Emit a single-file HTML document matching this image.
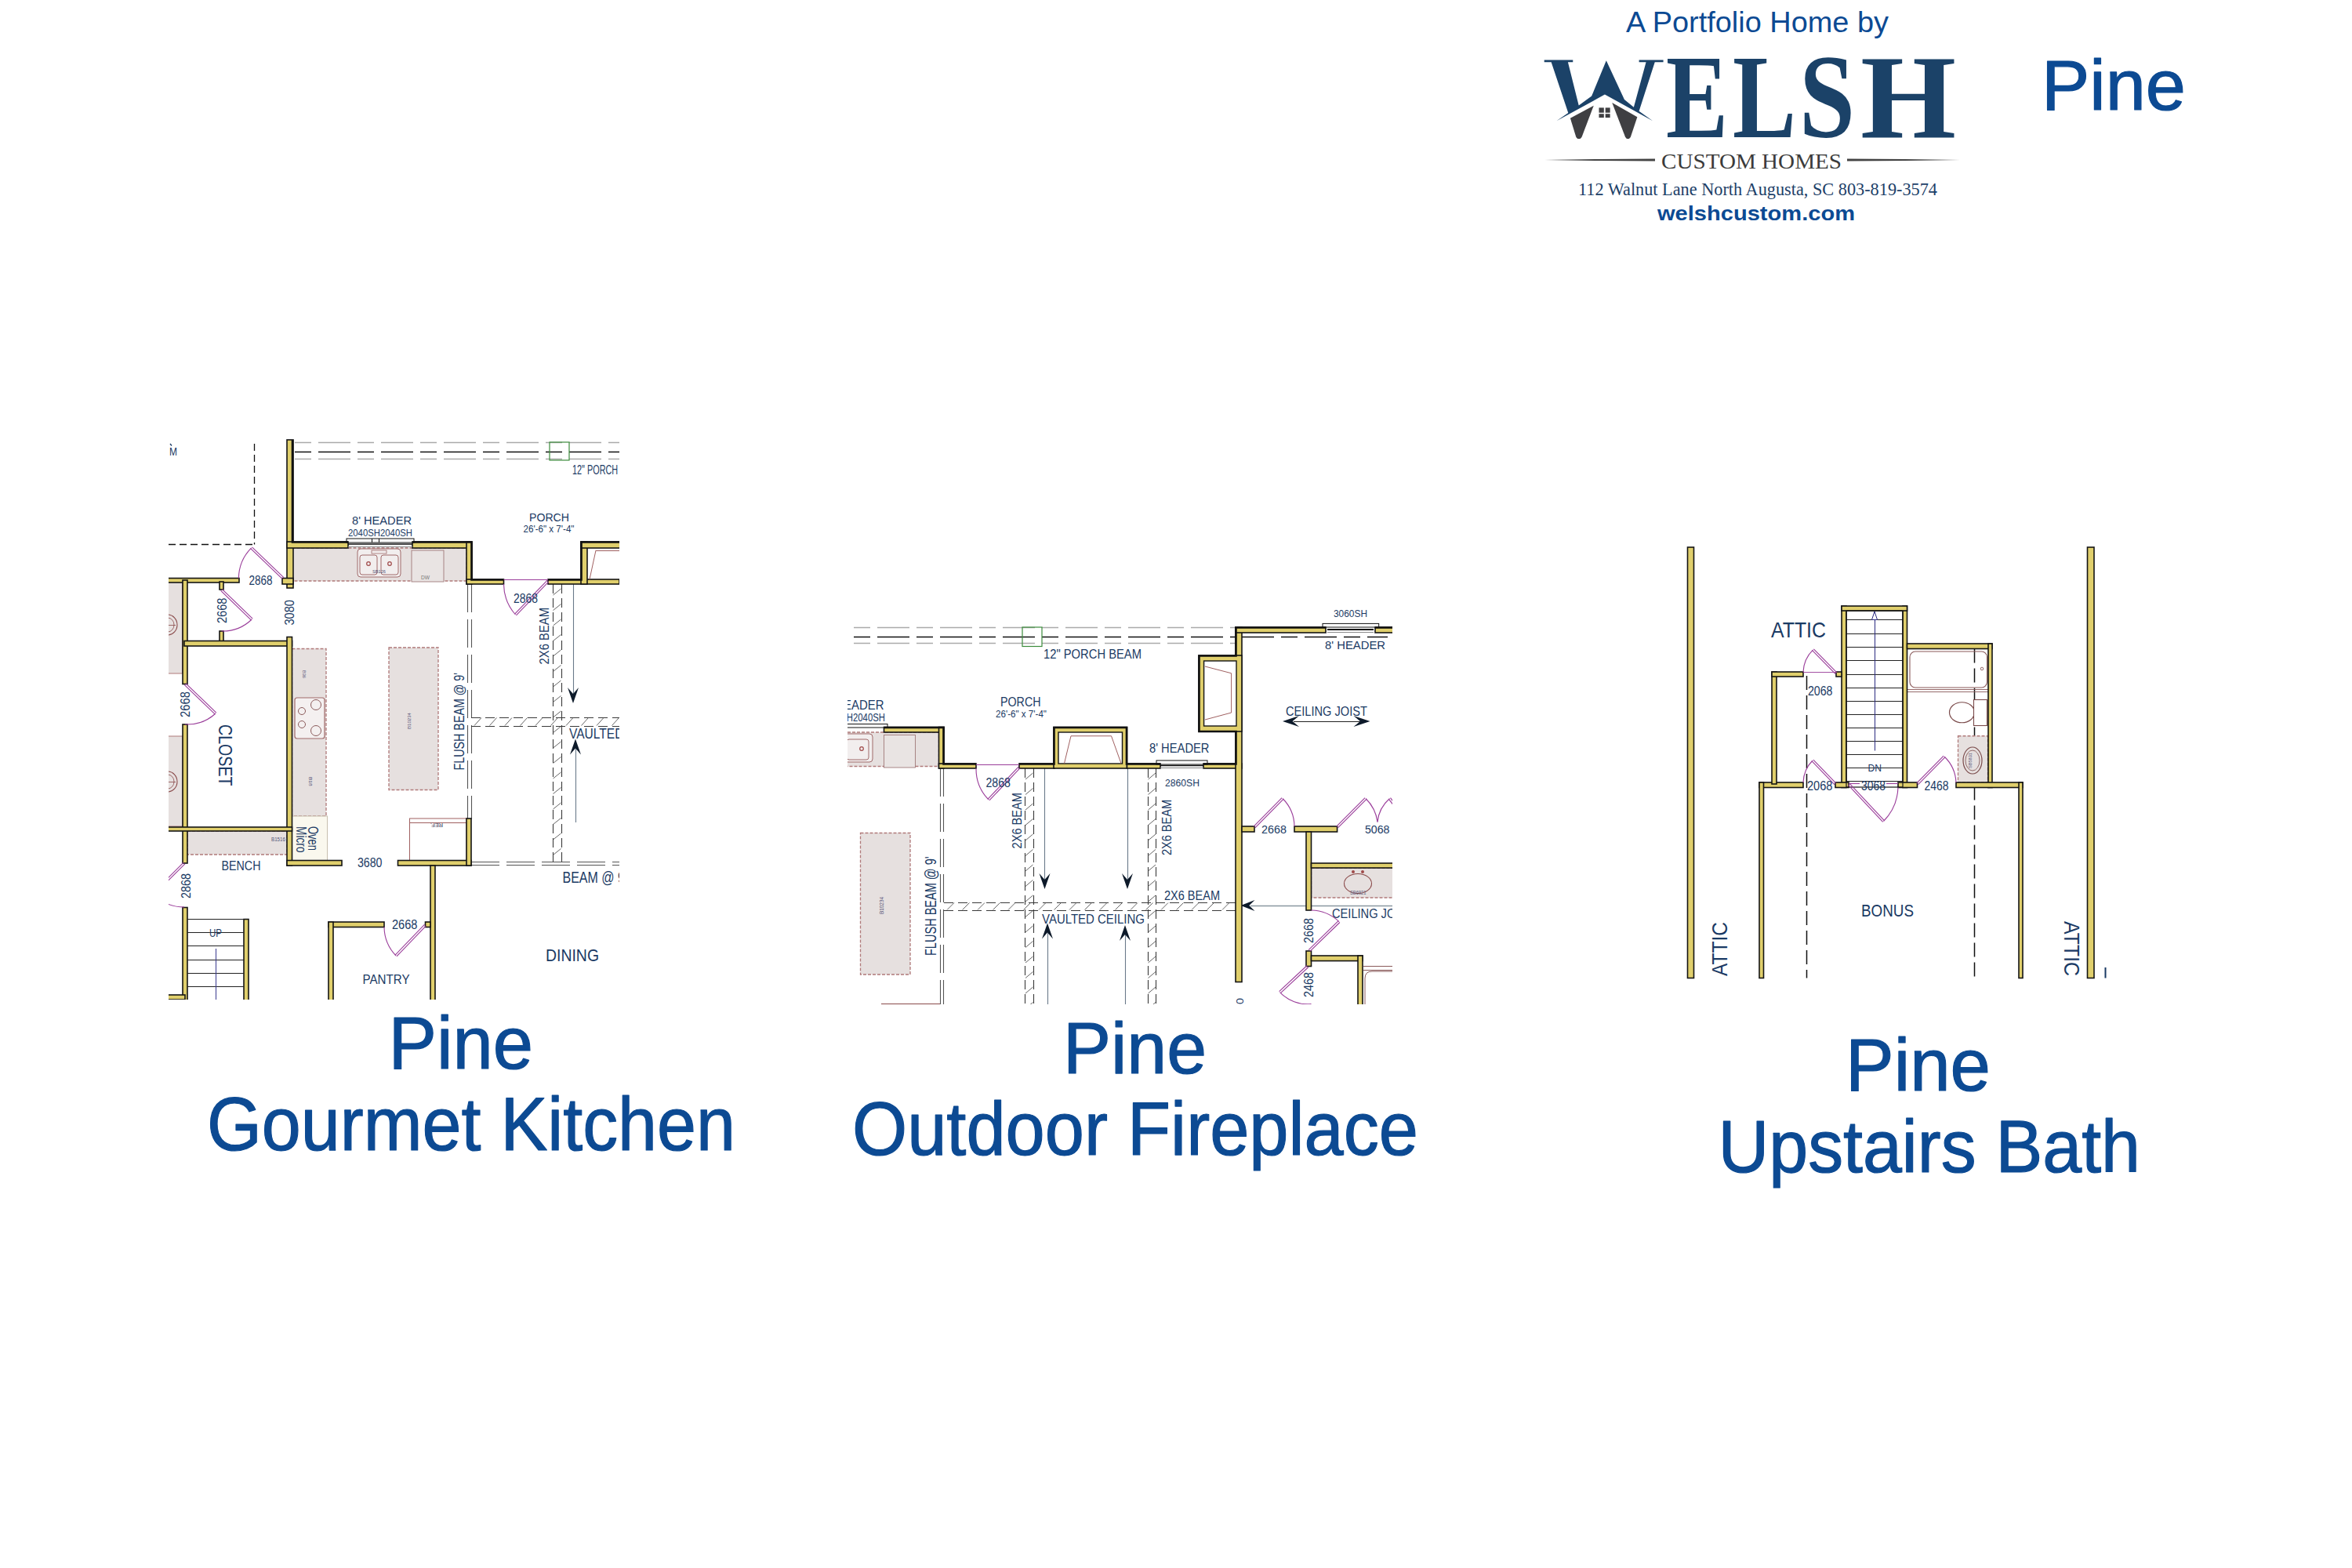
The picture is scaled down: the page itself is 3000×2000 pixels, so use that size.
<!DOCTYPE html>
<html><head><meta charset="utf-8"><title>Pine</title>
<style>html,body{margin:0;padding:0;background:#fff;}body{width:3000px;height:2000px;overflow:hidden;position:relative;font-family:"Liberation Sans",sans-serif;}svg{position:absolute;left:0;top:0;}</style>
</head><body>
<svg width="3000" height="2000" viewBox="0 0 3000 2000">
<text x="2074.0" y="40.5" font-family="Liberation Sans" font-weight="normal" font-size="37.79" fill="#0c4a93" textLength="335.0" lengthAdjust="spacingAndGlyphs">A Portfolio Home by</text>
<text x="2604.0" y="140.0" font-family="Liberation Sans" font-weight="normal" font-size="91.57" fill="#0c4a93" textLength="184.0" lengthAdjust="spacingAndGlyphs" stroke="#0c4a93" stroke-width="1.2" stroke-linejoin="round">Pine</text>
<g transform="translate(1960,65) scale(0.074627)">
<polygon points="130,155 620,155 620,190 535,190 720,930 940,770 1190,165 1500,830 1660,960 1870,190 1750,190 1750,155 2165,155 2165,190 2020,190 1750,1030 1985,1195 1165,745 340,1195 540,1060 250,190 130,190" fill="#1b4268"/>
<polygon points="575,1150 975,935 770,1475 745,1500 700,1500 675,1475" fill="#3f3f42"/>
<polygon points="1290,885 1720,1130 1605,1475 1580,1500 1540,1500 1515,1470" fill="#3f3f42"/>
<rect x="1065" y="970" width="85" height="85" fill="#3f3f42"/><rect x="1175" y="970" width="80" height="85" fill="#3f3f42"/><rect x="1065" y="1075" width="85" height="65" fill="#3f3f42"/><rect x="1175" y="1075" width="80" height="65" fill="#3f3f42"/>
</g>
<text x="2125.0" y="175.0" font-family="Liberation Serif" font-weight="bold" font-size="152.72" fill="#1b4268" textLength="79.0" lengthAdjust="spacingAndGlyphs">E</text>
<text x="2210.0" y="175.0" font-family="Liberation Serif" font-weight="bold" font-size="152.72" fill="#1b4268" textLength="81.0" lengthAdjust="spacingAndGlyphs">L</text>
<text x="2295.0" y="175.0" font-family="Liberation Serif" font-weight="bold" font-size="152.72" fill="#1b4268" textLength="71.0" lengthAdjust="spacingAndGlyphs">S</text>
<text x="2373.0" y="175.0" font-family="Liberation Serif" font-weight="bold" font-size="152.72" fill="#1b4268" textLength="122.0" lengthAdjust="spacingAndGlyphs">H</text>
<text x="2119.0" y="215.0" font-family="Liberation Serif" font-weight="normal" font-size="26.73" fill="#3b3b3b" textLength="230.0" lengthAdjust="spacingAndGlyphs">CUSTOM HOMES</text>
<text x="2013.0" y="249.0" font-family="Liberation Serif" font-weight="normal" font-size="22.91" fill="#1c4068" textLength="458.0" lengthAdjust="spacingAndGlyphs">112 Walnut Lane North Augusta, SC 803-819-3574</text>
<text x="2114.0" y="281.0" font-family="Liberation Sans" font-weight="bold" font-size="25.34" fill="#0c4a93" textLength="252.0" lengthAdjust="spacingAndGlyphs">welshcustom.com</text>
<path d="M1970 204 L2040 203 L2111 202.5 L2111 205.5 L2040 205 Z" fill="#444"/>
<path d="M2356 202.5 L2430 203 L2500 204 L2430 205 L2356 205.5 Z" fill="#444"/>
<text x="495.5" y="1362.5" font-family="Liberation Sans" font-weight="normal" font-size="93.75" fill="#0c4a93" textLength="184.5" lengthAdjust="spacingAndGlyphs" stroke="#0c4a93" stroke-width="1.2" stroke-linejoin="round">Pine</text>
<text x="264.0" y="1466.5" font-family="Liberation Sans" font-weight="normal" font-size="96.66" fill="#0c4a93" textLength="674.0" lengthAdjust="spacingAndGlyphs" stroke="#0c4a93" stroke-width="1.2" stroke-linejoin="round">Gourmet Kitchen</text>
<text x="1356.0" y="1369.0" font-family="Liberation Sans" font-weight="normal" font-size="93.02" fill="#0c4a93" textLength="183.0" lengthAdjust="spacingAndGlyphs" stroke="#0c4a93" stroke-width="1.2" stroke-linejoin="round">Pine</text>
<text x="1087.0" y="1473.0" font-family="Liberation Sans" font-weight="normal" font-size="95.93" fill="#0c4a93" textLength="722.0" lengthAdjust="spacingAndGlyphs" stroke="#0c4a93" stroke-width="1.2" stroke-linejoin="round">Outdoor Fireplace</text>
<text x="2354.0" y="1390.5" font-family="Liberation Sans" font-weight="normal" font-size="93.75" fill="#0c4a93" textLength="185.0" lengthAdjust="spacingAndGlyphs" stroke="#0c4a93" stroke-width="1.2" stroke-linejoin="round">Pine</text>
<text x="2191.5" y="1494.5" font-family="Liberation Sans" font-weight="normal" font-size="93.75" fill="#0c4a93" textLength="538.5" lengthAdjust="spacingAndGlyphs" stroke="#0c4a93" stroke-width="1.2" stroke-linejoin="round">Upstairs Bath</text>
<defs><clipPath id="ck"><rect x="215" y="555" width="575" height="720"/></clipPath></defs>
<g clip-path="url(#ck)">
<line x1="376" y1="564.5" x2="790" y2="564.5" stroke="#aaa" stroke-width="1.3" stroke-dasharray="21 9 41 9"/>
<line x1="376" y1="576.5" x2="790" y2="576.5" stroke="#111" stroke-width="1.5" stroke-dasharray="21 9 41 9"/>
<line x1="376" y1="585.5" x2="790" y2="585.5" stroke="#aaa" stroke-width="1.3" stroke-dasharray="21 9 41 9"/>
<rect x="701" y="564" width="25.00" height="23.00" fill="none" stroke="#3c8c3c" stroke-width="1.2"/>
<line x1="324.5" y1="566" x2="324.5" y2="694.5" stroke="#111" stroke-width="1.3" stroke-dasharray="9 5"/>
<line x1="215" y1="694.5" x2="324" y2="694.5" stroke="#111" stroke-width="1.3" stroke-dasharray="9 5"/>
<rect x="372.5" y="699" width="222.50" height="42.00" fill="#e6e0df" stroke="#b07a7a" stroke-width="1.3" stroke-dasharray="4 2"/>
<rect x="372.5" y="827.5" width="43.50" height="213.50" fill="#e6e0df" stroke="#b07a7a" stroke-width="1.3" stroke-dasharray="4 2"/>
<rect x="496" y="826" width="63.00" height="181.50" fill="#e6e0df" stroke="#b07a7a" stroke-width="1.3" stroke-dasharray="4 2"/>
<rect x="239" y="1060" width="127.00" height="30.00" fill="#e6e0df" stroke="#b07a7a" stroke-width="1.3" stroke-dasharray="4 2"/>
<rect x="212" y="742" width="20.50" height="117.00" fill="#e6e0df" stroke="#b07a7a" stroke-width="1"/>
<rect x="212" y="939" width="21.00" height="115.00" fill="#e6e0df" stroke="#b07a7a" stroke-width="1"/>
<path d="M214,784 A12,13 0 0 1 214,810" fill="none" stroke="#8a4a4a" stroke-width="1.1"/>
<path d="M214,788 A8,9 0 0 1 214,806" fill="none" stroke="#8a4a4a" stroke-width="0.8"/>
<line x1="214" y1="797.5" x2="224" y2="797.5" stroke="#8a4a4a" stroke-width="0.8"/>
<path d="M214,984 A12,13 0 0 1 214,1010" fill="none" stroke="#8a4a4a" stroke-width="1.1"/>
<path d="M214,988 A8,9 0 0 1 214,1006" fill="none" stroke="#8a4a4a" stroke-width="0.8"/>
<line x1="214" y1="997.5" x2="224" y2="997.5" stroke="#8a4a4a" stroke-width="0.8"/>
<rect x="456" y="700" width="55" height="36" rx="4" fill="#f2eeee" stroke="#a06a6a" stroke-width="1"/>
<rect x="459" y="708" width="22" height="25" rx="3" fill="none" stroke="#a06a6a" stroke-width="1"/><rect x="486" y="708" width="22" height="25" rx="3" fill="none" stroke="#a06a6a" stroke-width="1"/>
<rect x="474" y="702" width="19" height="4" fill="none" stroke="#a06a6a" stroke-width="0.8"/>
<circle cx="470" cy="719" r="2.3" fill="none" stroke="#a04a4a" stroke-width="1.2"/><circle cx="497" cy="719" r="2.3" fill="none" stroke="#a04a4a" stroke-width="1.2"/>
<rect x="525" y="702" width="41.00" height="40.00" fill="#e9e4e3" stroke="#a07a7a" stroke-width="0.9"/>
<text x="537.0" y="738.5" font-family="Liberation Sans" font-weight="normal" font-size="6.54" fill="#777" textLength="11.0" lengthAdjust="spacingAndGlyphs">DW</text>
<rect x="376" y="890" width="38" height="52" rx="3" fill="#f4f0f0" stroke="#a06a6a" stroke-width="1.2"/>
<circle cx="385" cy="907" r="4.5" fill="none" stroke="#8a5a5a" stroke-width="1"/>
<circle cx="403" cy="899" r="6.5" fill="none" stroke="#8a5a5a" stroke-width="1"/>
<circle cx="385" cy="924" r="4.5" fill="none" stroke="#8a5a5a" stroke-width="1"/>
<circle cx="403" cy="932" r="6.5" fill="none" stroke="#8a5a5a" stroke-width="1"/>
<rect x="372.5" y="1041" width="45.00" height="56.50" fill="#faf8ee" stroke="#c8c0b0" stroke-width="1"/>
<rect x="522.5" y="1044" width="72.50" height="53.50" fill="#fff" stroke="#a06060" stroke-width="1"/>
<line x1="522.5" y1="1049.5" x2="595" y2="1049.5" stroke="#a06060" stroke-width="1"/>
<rect x="559" y="1042" width="-553.00" height="-1039.00" fill="#a04a4a" stroke="none" stroke-width="1"/>
<line x1="596.5" y1="745" x2="596.5" y2="1045" stroke="#555" stroke-width="1.1" stroke-dasharray="36 9"/>
<line x1="601.5" y1="745" x2="601.5" y2="1045" stroke="#555" stroke-width="1.1" stroke-dasharray="36 9"/>
<line x1="705.5" y1="745" x2="705.5" y2="1099" stroke="#3a3a3a" stroke-width="1.1" stroke-dasharray="12 6"/>
<line x1="716.5" y1="745" x2="716.5" y2="1099" stroke="#3a3a3a" stroke-width="1.1" stroke-dasharray="12 6"/>
<path d="M705.5,759.0 L715.5,751.0 M705.5,778.5 L715.5,770.5 M705.5,798.0 L715.5,790.0 M705.5,817.5 L715.5,809.5 M705.5,837.0 L715.5,829.0 M705.5,856.5 L715.5,848.5 M705.5,876.0 L715.5,868.0 M705.5,895.5 L715.5,887.5 M705.5,915.0 L715.5,907.0 M705.5,934.5 L715.5,926.5 M705.5,954.0 L715.5,946.0 M705.5,973.5 L715.5,965.5 M705.5,993.0 L715.5,985.0 M705.5,1012.5 L715.5,1004.5 M705.5,1032.0 L715.5,1024.0 M705.5,1051.5 L715.5,1043.5 M705.5,1071.0 L715.5,1063.0 M705.5,1090.5 L715.5,1082.5 " stroke="#555" stroke-width="0.9" fill="none"/>
<line x1="601" y1="915.5" x2="790" y2="915.5" stroke="#3a3a3a" stroke-width="1.1" stroke-dasharray="12 6"/>
<line x1="601" y1="926.5" x2="790" y2="926.5" stroke="#3a3a3a" stroke-width="1.1" stroke-dasharray="12 6"/>
<path d="M605.0,925.5 L614.0,915.5 M624.5,925.5 L633.5,915.5 M644.0,925.5 L653.0,915.5 M663.5,925.5 L672.5,915.5 M683.0,925.5 L692.0,915.5 M702.5,925.5 L711.5,915.5 M722.0,925.5 L731.0,915.5 M741.5,925.5 L750.5,915.5 M761.0,925.5 L770.0,915.5 M780.5,925.5 L789.5,915.5 " stroke="#555" stroke-width="0.9" fill="none"/>
<line x1="601" y1="1099.5" x2="790" y2="1099.5" stroke="#555" stroke-width="1.1" stroke-dasharray="36 9"/>
<line x1="601" y1="1103.5" x2="790" y2="1103.5" stroke="#555" stroke-width="1.1" stroke-dasharray="36 9"/>
<line x1="731.5" y1="745" x2="731.5" y2="885" stroke="#6a7a8a" stroke-width="1.1"/>
<path d="M731.0,897.0 L724.0,877.0 L731.0,885.0 L738.0,877.0 Z" fill="#0d1a2a"/>
<line x1="734.5" y1="955" x2="734.5" y2="1049" stroke="#6a7a8a" stroke-width="1.1"/>
<path d="M734.0,942.5 L741.0,962.5 L734.0,954.5 L727.0,962.5 Z" fill="#0d1a2a"/>
<rect x="366" y="561" width="8.00" height="189.00" fill="#e0cf6c" stroke="#141414" stroke-width="1.6"/>
<rect x="360" y="737.5" width="14.00" height="7.50" fill="#e0cf6c" stroke="#141414" stroke-width="1.6"/>
<rect x="366" y="691" width="78.00" height="8.00" fill="#e0cf6c" stroke="#141414" stroke-width="1.6"/>
<rect x="526" y="691" width="75.00" height="8.00" fill="#e0cf6c" stroke="#141414" stroke-width="1.6"/>
<rect x="595" y="691" width="7.00" height="54.00" fill="#e0cf6c" stroke="#141414" stroke-width="1.6"/>
<rect x="595" y="739" width="47.50" height="6.00" fill="#e0cf6c" stroke="#141414" stroke-width="1.6"/>
<rect x="699" y="739" width="91.00" height="6.00" fill="#e0cf6c" stroke="#141414" stroke-width="1.6"/>
<rect x="741" y="691" width="8.00" height="54.00" fill="#e0cf6c" stroke="#141414" stroke-width="1.6"/>
<rect x="741" y="691" width="51.00" height="8.00" fill="#e0cf6c" stroke="#141414" stroke-width="1.6"/>
<rect x="213" y="737.5" width="92.00" height="5.50" fill="#e0cf6c" stroke="#141414" stroke-width="1.6"/>
<rect x="233" y="740" width="6.00" height="132.50" fill="#e0cf6c" stroke="#141414" stroke-width="1.6"/>
<rect x="233" y="924" width="6.00" height="177.00" fill="#e0cf6c" stroke="#141414" stroke-width="1.6"/>
<rect x="233" y="1157.5" width="6.00" height="120.50" fill="#e0cf6c" stroke="#141414" stroke-width="1.6"/>
<rect x="280" y="742" width="5.00" height="10.00" fill="#e0cf6c" stroke="#141414" stroke-width="1.6"/>
<rect x="280" y="805" width="5.00" height="14.00" fill="#e0cf6c" stroke="#141414" stroke-width="1.6"/>
<rect x="235" y="817.5" width="137.50" height="6.50" fill="#e0cf6c" stroke="#141414" stroke-width="1.6"/>
<rect x="366" y="812.5" width="6.50" height="291.50" fill="#e0cf6c" stroke="#141414" stroke-width="1.6"/>
<rect x="213" y="1055" width="159.50" height="5.00" fill="#e0cf6c" stroke="#141414" stroke-width="1.6"/>
<rect x="366" y="1097.5" width="70.00" height="6.50" fill="#e0cf6c" stroke="#141414" stroke-width="1.6"/>
<rect x="507.5" y="1097.5" width="93.50" height="6.50" fill="#e0cf6c" stroke="#141414" stroke-width="1.6"/>
<rect x="595" y="1044" width="6.00" height="60.00" fill="#e0cf6c" stroke="#141414" stroke-width="1.6"/>
<rect x="549" y="1104" width="6.00" height="174.00" fill="#e0cf6c" stroke="#141414" stroke-width="1.6"/>
<rect x="419" y="1176" width="71.00" height="6.50" fill="#e0cf6c" stroke="#141414" stroke-width="1.6"/>
<rect x="542.5" y="1176" width="6.50" height="6.50" fill="#e0cf6c" stroke="#141414" stroke-width="1.6"/>
<rect x="419" y="1176" width="6.00" height="102.00" fill="#e0cf6c" stroke="#141414" stroke-width="1.6"/>
<rect x="311" y="1172.5" width="6.00" height="105.50" fill="#e0cf6c" stroke="#141414" stroke-width="1.6"/>
<rect x="213" y="1269" width="23.00" height="6.00" fill="#e0cf6c" stroke="#141414" stroke-width="1.6"/>
<polyline points="373,561 373,691.5 444,691.5" fill="none" stroke="#111" stroke-width="2.6"/>
<polyline points="526,691.5 601.5,691.5 601.5,739.5 642.5,739.5" fill="none" stroke="#111" stroke-width="2.6"/>
<polyline points="699,739.5 741.5,739.5 741.5,691.5 792,691.5" fill="none" stroke="#111" stroke-width="2.6"/>
<rect x="442" y="687" width="86.00" height="5.00" fill="none" stroke="#111" stroke-width="1"/>
<line x1="444" y1="694" x2="526" y2="694" stroke="#111" stroke-width="1.6"/>
<line x1="444" y1="697.5" x2="526" y2="697.5" stroke="#888" stroke-width="1"/>
<line x1="474.5" y1="687" x2="474.5" y2="692" stroke="#111" stroke-width="1"/>
<line x1="483.5" y1="687" x2="483.5" y2="692" stroke="#111" stroke-width="1"/>
<line x1="752" y1="739" x2="760" y2="702" stroke="#a06060" stroke-width="1"/>
<line x1="760" y1="702.5" x2="790" y2="702.5" stroke="#a06060" stroke-width="1"/>
<line x1="642.5" y1="739.5" x2="699" y2="739.5" stroke="#9a3d9a" stroke-width="1.1"/>
<path d="M361.9,736.6 L321.5,697.8 M360.1,738.4 L319.7,699.7" stroke="#9a3d9a" stroke-width="1.1" fill="none"/>
<path d="M320.6,698.8 A56.0,56.0 0 0 0 304.4,737.5" stroke="#9a3d9a" stroke-width="1.1" fill="none"/>
<path d="M281.6,753.4 L320.3,790.9 M283.4,751.6 L322.2,789.1" stroke="#9a3d9a" stroke-width="1.1" fill="none"/>
<path d="M321.2,790.0 A53.9,53.9 0 0 1 282.5,805.0" stroke="#9a3d9a" stroke-width="1.1" fill="none"/>
<path d="M698.1,740.1 L656.6,783.1 M699.9,741.9 L658.4,784.9" stroke="#9a3d9a" stroke-width="1.1" fill="none"/>
<path d="M657.5,784.0 A59.8,59.8 0 0 1 642.5,745.0" stroke="#9a3d9a" stroke-width="1.1" fill="none"/>
<path d="M235.1,873.4 L274.1,910.9 M236.9,871.6 L275.9,909.1" stroke="#9a3d9a" stroke-width="1.1" fill="none"/>
<path d="M275.0,910.0 A54.1,54.1 0 0 1 236.0,924.0" stroke="#9a3d9a" stroke-width="1.1" fill="none"/>
<path d="M234.1,1100.1 L194.5,1139.7 M235.9,1101.9 L196.3,1141.5" stroke="#9a3d9a" stroke-width="1.1" fill="none"/>
<path d="M195.4,1140.6 A56.0,56.0 0 0 0 235.0,1157.0" stroke="#9a3d9a" stroke-width="1.1" fill="none"/>
<path d="M541.6,1179.1 L504.1,1218.1 M543.4,1180.9 L505.9,1219.9" stroke="#9a3d9a" stroke-width="1.1" fill="none"/>
<path d="M505.0,1219.0 A54.1,54.1 0 0 1 490.0,1182.5" stroke="#9a3d9a" stroke-width="1.1" fill="none"/>
<line x1="239" y1="1172.5" x2="311" y2="1172.5" stroke="#222" stroke-width="1.2"/>
<line x1="239" y1="1189.5" x2="311" y2="1189.5" stroke="#222" stroke-width="1.2"/>
<line x1="239" y1="1206.5" x2="311" y2="1206.5" stroke="#222" stroke-width="1.2"/>
<line x1="239" y1="1224.5" x2="311" y2="1224.5" stroke="#222" stroke-width="1.2"/>
<line x1="239" y1="1241.5" x2="311" y2="1241.5" stroke="#222" stroke-width="1.2"/>
<line x1="239" y1="1258.5" x2="311" y2="1258.5" stroke="#222" stroke-width="1.2"/>
<line x1="239" y1="1275.5" x2="311" y2="1275.5" stroke="#222" stroke-width="1.2"/>
<line x1="275.5" y1="1210" x2="275.5" y2="1275" stroke="#3a3a90" stroke-width="1"/>
<rect x="262" y="1183" width="-236.00" height="-1171.00" fill="#fff" stroke="none" stroke-width="1"/>
<text x="267.0" y="1195.0" font-family="Liberation Sans" font-weight="normal" font-size="14.54" fill="#1a3a64" textLength="16.0" lengthAdjust="spacingAndGlyphs">UP</text>
<text x="216.0" y="581.0" font-family="Liberation Sans" font-weight="normal" font-size="14.54" fill="#1a3a64" textLength="10.0" lengthAdjust="spacingAndGlyphs">M</text>
<line x1="217" y1="566" x2="219" y2="568.5" stroke="#1a3a64" stroke-width="1.3"/>
<text x="475.0" y="731.0" font-family="Liberation Sans" font-weight="normal" font-size="5.81" fill="#557" textLength="17.0" lengthAdjust="spacingAndGlyphs">SB126</text>
<text transform="translate(386.0,855.0) rotate(90)" x="0" y="0" font-family="Liberation Sans" font-weight="normal" font-size="5.81" fill="#557" textLength="10.0" lengthAdjust="spacingAndGlyphs">B36</text>
<text transform="translate(393.5,991.0) rotate(90)" x="0" y="0" font-family="Liberation Sans" font-weight="normal" font-size="5.81" fill="#557" textLength="11.5" lengthAdjust="spacingAndGlyphs">B18</text>
<text transform="translate(524.0,930.0) rotate(-90)" x="0" y="0" font-family="Liberation Sans" font-weight="normal" font-size="5.81" fill="#557" textLength="21.0" lengthAdjust="spacingAndGlyphs">B10234</text>
<text x="346.0" y="1072.5" font-family="Liberation Sans" font-weight="normal" font-size="7.27" fill="#557" textLength="18.0" lengthAdjust="spacingAndGlyphs">B1516</text>
<text transform="translate(565,1050) rotate(180)" font-family="Liberation Sans" font-size="8" fill="#335" textLength="16" lengthAdjust="spacingAndGlyphs">REF.</text>
<text x="449.0" y="669.0" font-family="Liberation Sans" font-weight="normal" font-size="14.54" fill="#1a3a64" textLength="76.0" lengthAdjust="spacingAndGlyphs">8' HEADER</text>
<text x="444.0" y="684.0" font-family="Liberation Sans" font-weight="normal" font-size="13.08" fill="#1a3a64" textLength="82.0" lengthAdjust="spacingAndGlyphs">2040SH2040SH</text>
<text x="675.0" y="665.0" font-family="Liberation Sans" font-weight="normal" font-size="14.54" fill="#1a3a64" textLength="51.0" lengthAdjust="spacingAndGlyphs">PORCH</text>
<text x="667.5" y="679.0" font-family="Liberation Sans" font-weight="normal" font-size="13.08" fill="#1a3a64" textLength="65.0" lengthAdjust="spacingAndGlyphs">26'-6&quot; x 7'-4&quot;</text>
<text x="730.0" y="605.0" font-family="Liberation Sans" font-weight="normal" font-size="15.99" fill="#1a3a64" textLength="92.0" lengthAdjust="spacingAndGlyphs">12&quot; PORCH BEAM</text>
<text x="317.5" y="746.0" font-family="Liberation Sans" font-weight="normal" font-size="15.99" fill="#1a3a64" textLength="30.0" lengthAdjust="spacingAndGlyphs">2868</text>
<text transform="translate(289.0,795.0) rotate(-90)" x="0" y="0" font-family="Liberation Sans" font-weight="normal" font-size="16.72" fill="#1a3a64" textLength="32.5" lengthAdjust="spacingAndGlyphs">2668</text>
<text transform="translate(375.0,797.5) rotate(-90)" x="0" y="0" font-family="Liberation Sans" font-weight="normal" font-size="15.99" fill="#1a3a64" textLength="32.5" lengthAdjust="spacingAndGlyphs">3080</text>
<text x="655.0" y="769.0" font-family="Liberation Sans" font-weight="normal" font-size="16.72" fill="#1a3a64" textLength="31.0" lengthAdjust="spacingAndGlyphs">2868</text>
<text transform="translate(700.0,847.5) rotate(-90)" x="0" y="0" font-family="Liberation Sans" font-weight="normal" font-size="15.99" fill="#1a3a64" textLength="72.5" lengthAdjust="spacingAndGlyphs">2X6 BEAM</text>
<text transform="translate(592.0,982.5) rotate(-90)" x="0" y="0" font-family="Liberation Sans" font-weight="normal" font-size="18.90" fill="#1a3a64" textLength="124.5" lengthAdjust="spacingAndGlyphs">FLUSH BEAM @ 9'</text>
<text transform="translate(242.0,915.0) rotate(-90)" x="0" y="0" font-family="Liberation Sans" font-weight="normal" font-size="15.99" fill="#1a3a64" textLength="33.0" lengthAdjust="spacingAndGlyphs">2668</text>
<text transform="translate(279.0,924.0) rotate(90)" x="0" y="0" font-family="Liberation Sans" font-weight="normal" font-size="23.26" fill="#1a3a64" textLength="78.5" lengthAdjust="spacingAndGlyphs">CLOSET</text>
<text x="726.0" y="942.0" font-family="Liberation Sans" font-weight="normal" font-size="17.44" fill="#1a3a64" textLength="136.0" lengthAdjust="spacingAndGlyphs">VAULTED CEILING</text>
<text x="282.5" y="1110.0" font-family="Liberation Sans" font-weight="normal" font-size="15.99" fill="#1a3a64" textLength="50.0" lengthAdjust="spacingAndGlyphs">BENCH</text>
<text x="456.0" y="1106.0" font-family="Liberation Sans" font-weight="normal" font-size="15.99" fill="#1a3a64" textLength="31.5" lengthAdjust="spacingAndGlyphs">3680</text>
<text transform="translate(393.0,1054.0) rotate(90)" x="0" y="0" font-family="Liberation Sans" font-weight="normal" font-size="17.44" fill="#1a3a64" textLength="31.0" lengthAdjust="spacingAndGlyphs">Oven</text>
<text transform="translate(378.0,1054.0) rotate(90)" x="0" y="0" font-family="Liberation Sans" font-weight="normal" font-size="17.44" fill="#1a3a64" textLength="33.5" lengthAdjust="spacingAndGlyphs">Micro</text>
<text transform="translate(242.5,1146.0) rotate(-90)" x="0" y="0" font-family="Liberation Sans" font-weight="normal" font-size="16.72" fill="#1a3a64" textLength="32.0" lengthAdjust="spacingAndGlyphs">2868</text>
<text x="500.0" y="1185.0" font-family="Liberation Sans" font-weight="normal" font-size="15.99" fill="#1a3a64" textLength="32.5" lengthAdjust="spacingAndGlyphs">2668</text>
<text x="462.5" y="1255.0" font-family="Liberation Sans" font-weight="normal" font-size="15.99" fill="#1a3a64" textLength="60.0" lengthAdjust="spacingAndGlyphs">PANTRY</text>
<text x="696.0" y="1226.0" font-family="Liberation Sans" font-weight="normal" font-size="21.80" fill="#1a3a64" textLength="68.0" lengthAdjust="spacingAndGlyphs">DINING</text>
<text x="717.5" y="1126.0" font-family="Liberation Sans" font-weight="normal" font-size="19.62" fill="#1a3a64" textLength="82.5" lengthAdjust="spacingAndGlyphs">BEAM @ 9'</text>
</g>
<defs><clipPath id="cf"><rect x="1081" y="770" width="695" height="511"/></clipPath></defs>
<g clip-path="url(#cf)">
<line x1="1089" y1="800.5" x2="1576" y2="800.5" stroke="#aaa" stroke-width="1.3" stroke-dasharray="21 9 41 9"/>
<line x1="1089" y1="812.5" x2="1576" y2="812.5" stroke="#111" stroke-width="1.5" stroke-dasharray="21 9 41 9"/>
<line x1="1089" y1="820.5" x2="1576" y2="820.5" stroke="#aaa" stroke-width="1.3" stroke-dasharray="21 9 41 9"/>
<line x1="1584" y1="812.5" x2="1770" y2="812.5" stroke="#111" stroke-width="1.5" stroke-dasharray="41 9 21 9"/>
<rect x="1304" y="800" width="25.00" height="24.50" fill="none" stroke="#3c8c3c" stroke-width="1.2"/>
<rect x="1075" y="934" width="122.50" height="43.50" fill="#e6e0df" stroke="#b07a7a" stroke-width="1.3" stroke-dasharray="4 2"/>
<rect x="1075" y="936" width="38" height="36" rx="4" fill="#f2eeee" stroke="#a06a6a" stroke-width="1"/>
<rect x="1080" y="943" width="28" height="26" rx="3" fill="none" stroke="#a06a6a" stroke-width="1"/>
<circle cx="1099" cy="955" r="2.3" fill="none" stroke="#a04a4a" stroke-width="1.2"/>
<rect x="1127.5" y="937.5" width="40.00" height="41.50" fill="#e9e4e3" stroke="#a07a7a" stroke-width="0.9"/>
<rect x="1097.5" y="1062.5" width="63.50" height="180.50" fill="#e6e0df" stroke="#b07a7a" stroke-width="1.3" stroke-dasharray="4 2"/>
<line x1="1124" y1="1280.5" x2="1199" y2="1280.5" stroke="#8a4a4a" stroke-width="1.2"/>
<rect x="1075" y="923.5" width="57.00" height="4.50" fill="none" stroke="#111" stroke-width="1"/>
<line x1="1199.5" y1="980" x2="1199.5" y2="1281" stroke="#555" stroke-width="1.1" stroke-dasharray="36 9"/>
<line x1="1203.5" y1="980" x2="1203.5" y2="1281" stroke="#555" stroke-width="1.1" stroke-dasharray="36 9"/>
<line x1="1307.5" y1="980" x2="1307.5" y2="1281" stroke="#3a3a3a" stroke-width="1.1" stroke-dasharray="12 6"/>
<line x1="1318.5" y1="980" x2="1318.5" y2="1281" stroke="#3a3a3a" stroke-width="1.1" stroke-dasharray="12 6"/>
<path d="M1308.0,994.0 L1317.5,986.0 M1308.0,1013.5 L1317.5,1005.5 M1308.0,1033.0 L1317.5,1025.0 M1308.0,1052.5 L1317.5,1044.5 M1308.0,1072.0 L1317.5,1064.0 M1308.0,1091.5 L1317.5,1083.5 M1308.0,1111.0 L1317.5,1103.0 M1308.0,1130.5 L1317.5,1122.5 M1308.0,1150.0 L1317.5,1142.0 M1308.0,1169.5 L1317.5,1161.5 M1308.0,1189.0 L1317.5,1181.0 M1308.0,1208.5 L1317.5,1200.5 M1308.0,1228.0 L1317.5,1220.0 M1308.0,1247.5 L1317.5,1239.5 M1308.0,1267.0 L1317.5,1259.0 M1308.0,1286.5 L1317.5,1278.5 " stroke="#555" stroke-width="0.9" fill="none"/>
<line x1="1464.5" y1="980" x2="1464.5" y2="1281" stroke="#3a3a3a" stroke-width="1.1" stroke-dasharray="12 6"/>
<line x1="1474.5" y1="980" x2="1474.5" y2="1281" stroke="#3a3a3a" stroke-width="1.1" stroke-dasharray="12 6"/>
<path d="M1464.5,994.0 L1474.0,986.0 M1464.5,1013.5 L1474.0,1005.5 M1464.5,1033.0 L1474.0,1025.0 M1464.5,1052.5 L1474.0,1044.5 M1464.5,1072.0 L1474.0,1064.0 M1464.5,1091.5 L1474.0,1083.5 M1464.5,1111.0 L1474.0,1103.0 M1464.5,1130.5 L1474.0,1122.5 M1464.5,1150.0 L1474.0,1142.0 M1464.5,1169.5 L1474.0,1161.5 M1464.5,1189.0 L1474.0,1181.0 M1464.5,1208.5 L1474.0,1200.5 M1464.5,1228.0 L1474.0,1220.0 M1464.5,1247.5 L1474.0,1239.5 M1464.5,1267.0 L1474.0,1259.0 M1464.5,1286.5 L1474.0,1278.5 " stroke="#555" stroke-width="0.9" fill="none"/>
<line x1="1204" y1="1151.5" x2="1577.5" y2="1151.5" stroke="#3a3a3a" stroke-width="1.1" stroke-dasharray="12 6"/>
<line x1="1204" y1="1161.5" x2="1577.5" y2="1161.5" stroke="#3a3a3a" stroke-width="1.1" stroke-dasharray="12 6"/>
<path d="M1208.0,1160.5 L1217.0,1151.5 M1227.5,1160.5 L1236.5,1151.5 M1247.0,1160.5 L1256.0,1151.5 M1266.5,1160.5 L1275.5,1151.5 M1286.0,1160.5 L1295.0,1151.5 M1305.5,1160.5 L1314.5,1151.5 M1325.0,1160.5 L1334.0,1151.5 M1344.5,1160.5 L1353.5,1151.5 M1364.0,1160.5 L1373.0,1151.5 M1383.5,1160.5 L1392.5,1151.5 M1403.0,1160.5 L1412.0,1151.5 M1422.5,1160.5 L1431.5,1151.5 M1442.0,1160.5 L1451.0,1151.5 M1461.5,1160.5 L1470.5,1151.5 M1481.0,1160.5 L1490.0,1151.5 M1500.5,1160.5 L1509.5,1151.5 M1520.0,1160.5 L1529.0,1151.5 M1539.5,1160.5 L1548.5,1151.5 M1559.0,1160.5 L1568.0,1151.5 " stroke="#555" stroke-width="0.9" fill="none"/>
<line x1="1332.5" y1="980" x2="1332.5" y2="1122" stroke="#6a7a8a" stroke-width="1.1"/>
<path d="M1332.5,1134.0 L1325.5,1114.0 L1332.5,1122.0 L1339.5,1114.0 Z" fill="#0d1a2a"/>
<line x1="1438.5" y1="980" x2="1438.5" y2="1122" stroke="#6a7a8a" stroke-width="1.1"/>
<path d="M1438.0,1134.0 L1431.0,1114.0 L1438.0,1122.0 L1445.0,1114.0 Z" fill="#0d1a2a"/>
<line x1="1336.5" y1="1190" x2="1336.5" y2="1281" stroke="#6a7a8a" stroke-width="1.1"/>
<path d="M1336.0,1177.5 L1343.0,1197.5 L1336.0,1189.5 L1329.0,1197.5 Z" fill="#0d1a2a"/>
<line x1="1435.5" y1="1192" x2="1435.5" y2="1281" stroke="#6a7a8a" stroke-width="1.1"/>
<path d="M1435.0,1180.0 L1442.0,1200.0 L1435.0,1192.0 L1428.0,1200.0 Z" fill="#0d1a2a"/>
<line x1="1595" y1="1155.5" x2="1776" y2="1155.5" stroke="#8a98a0" stroke-width="1.3"/>
<path d="M1582.5,1155.0 L1600.5,1148.0 L1593.3,1155.0 L1600.5,1162.0 Z" fill="#0d1a2a"/>
<line x1="1650" y1="920.5" x2="1735" y2="920.5" stroke="#222" stroke-width="1"/>
<path d="M1636.0,920.0 L1657.0,913.0 L1648.6,920.0 L1657.0,927.0 Z" fill="#0d1a2a"/>
<path d="M1747.5,920.0 L1726.5,927.0 L1734.9,920.0 L1726.5,913.0 Z" fill="#0d1a2a"/>
<rect x="1672.5" y="1107" width="107.50" height="38.00" fill="#e6e0df" stroke="#b07a7a" stroke-width="1.3" stroke-dasharray="4 2"/>
<ellipse cx="1732" cy="1127" rx="17.5" ry="12.5" fill="none" stroke="#8a4a4a" stroke-width="1.1"/>
<circle cx="1726" cy="1112" r="2" fill="#a04a4a"/><circle cx="1738" cy="1112" r="2" fill="#a04a4a"/>
<rect x="1127.5" y="927.5" width="76.50" height="6.50" fill="#e0cf6c" stroke="#141414" stroke-width="1.6"/>
<rect x="1197.5" y="927.5" width="6.50" height="52.50" fill="#e0cf6c" stroke="#141414" stroke-width="1.6"/>
<rect x="1197.5" y="974" width="47.50" height="6.00" fill="#e0cf6c" stroke="#141414" stroke-width="1.6"/>
<rect x="1300" y="974" width="45.00" height="6.00" fill="#e0cf6c" stroke="#141414" stroke-width="1.6"/>
<rect x="1344" y="927.5" width="93.50" height="52.50" fill="#e0cf6c" stroke="#141414" stroke-width="1.6"/>
<rect x="1437.5" y="974" width="42.50" height="6.00" fill="#e0cf6c" stroke="#141414" stroke-width="1.6"/>
<rect x="1535" y="974" width="49.00" height="6.00" fill="#e0cf6c" stroke="#141414" stroke-width="1.6"/>
<rect x="1576" y="800" width="8.00" height="452.50" fill="#e0cf6c" stroke="#141414" stroke-width="1.6"/>
<rect x="1576" y="800" width="115.00" height="7.00" fill="#e0cf6c" stroke="#141414" stroke-width="1.6"/>
<rect x="1754" y="800" width="26.00" height="7.00" fill="#e0cf6c" stroke="#141414" stroke-width="1.6"/>
<rect x="1529" y="836" width="55.00" height="97.00" fill="#e0cf6c" stroke="#141414" stroke-width="1.6"/>
<rect x="1584" y="1054" width="16.00" height="7.00" fill="#e0cf6c" stroke="#141414" stroke-width="1.6"/>
<rect x="1651" y="1054" width="54.60" height="7.00" fill="#e0cf6c" stroke="#141414" stroke-width="1.6"/>
<rect x="1666" y="1061" width="6.50" height="100.00" fill="#e0cf6c" stroke="#141414" stroke-width="1.6"/>
<rect x="1672.5" y="1101" width="107.50" height="6.00" fill="#e0cf6c" stroke="#141414" stroke-width="1.6"/>
<rect x="1666" y="1213" width="6.50" height="19.50" fill="#e0cf6c" stroke="#141414" stroke-width="1.6"/>
<rect x="1672.5" y="1219" width="65.50" height="6.60" fill="#e0cf6c" stroke="#141414" stroke-width="1.6"/>
<rect x="1732" y="1219" width="6.00" height="66.00" fill="#e0cf6c" stroke="#141414" stroke-width="1.6"/>
<polyline points="1127.5,928 1203.5,928 1203.5,974.5 1245,974.5" fill="none" stroke="#111" stroke-width="2.6"/>
<polyline points="1300,974.5 1344.5,974.5 1344.5,928 1437,928 1437,974.5 1480,974.5" fill="none" stroke="#111" stroke-width="2.6"/>
<polyline points="1535,974.5 1576.5,974.5 1576.5,933 1529.5,933 1529.5,836.5 1576.5,836.5 1576.5,800.5 1691,800.5" fill="none" stroke="#111" stroke-width="2.6"/>
<polyline points="1754,800.5 1780,800.5" fill="none" stroke="#111" stroke-width="2.6"/>
<rect x="1350" y="934" width="81.50" height="40.00" fill="#fff" stroke="#141414" stroke-width="1.4"/>
<polyline points="1357.5,973.75 1366,938.75 1417.5,938.75 1430,973.75" fill="none" stroke="#a06060" stroke-width="1"/>
<rect x="1535.6" y="843" width="41.40" height="83.00" fill="#fff" stroke="#141414" stroke-width="1.4"/>
<polyline points="1537,850 1570.6,858.75 1570.6,909 1537,918" fill="none" stroke="#a06060" stroke-width="1"/>
<rect x="1475" y="970" width="65.00" height="5.00" fill="none" stroke="#111" stroke-width="1"/>
<line x1="1480" y1="976.5" x2="1535" y2="976.5" stroke="#111" stroke-width="1.3"/>
<line x1="1480" y1="979.5" x2="1535" y2="979.5" stroke="#888" stroke-width="1"/>
<rect x="1687" y="795.4" width="71.70" height="4.60" fill="none" stroke="#111" stroke-width="1"/>
<line x1="1693" y1="803" x2="1752" y2="803" stroke="#111" stroke-width="1.8"/>
<line x1="1693" y1="806.5" x2="1752" y2="806.5" stroke="#888" stroke-width="1"/>
<line x1="1245" y1="975.5" x2="1300" y2="975.5" stroke="#9a3d9a" stroke-width="1.1"/>
<path d="M1299.1,978.1 L1260.1,1019.1 M1300.9,979.9 L1261.9,1020.9" stroke="#9a3d9a" stroke-width="1.1" fill="none"/>
<path d="M1261.0,1020.0 A56.6,56.6 0 0 1 1245.0,980.0" stroke="#9a3d9a" stroke-width="1.1" fill="none"/>
<path d="M1600.9,1055.9 L1636.9,1019.4 M1599.1,1054.1 L1635.1,1017.6" stroke="#9a3d9a" stroke-width="1.1" fill="none"/>
<path d="M1636.0,1018.5 A51.3,51.3 0 0 1 1651.0,1054.0" stroke="#9a3d9a" stroke-width="1.1" fill="none"/>
<path d="M1706.5,1055.9 L1742.9,1019.4 M1704.7,1054.1 L1741.1,1017.6" stroke="#9a3d9a" stroke-width="1.1" fill="none"/>
<path d="M1742.0,1018.5 A51.5,51.5 0 0 1 1757.0,1048.5" stroke="#9a3d9a" stroke-width="1.1" fill="none"/>
<path d="M1801.0,1054.2 L1773.5,1017.7 M1799.0,1055.8 L1771.5,1019.3" stroke="#9a3d9a" stroke-width="1.1" fill="none"/>
<path d="M1772.5,1018.5 A45.7,45.7 0 0 0 1757.0,1048.5" stroke="#9a3d9a" stroke-width="1.1" fill="none"/>
<path d="M1670.9,1213.4 L1708.9,1176.5 M1669.1,1211.6 L1707.1,1174.7" stroke="#9a3d9a" stroke-width="1.1" fill="none"/>
<path d="M1708.0,1175.6 A53.0,53.0 0 0 0 1672.5,1161.0" stroke="#9a3d9a" stroke-width="1.1" fill="none"/>
<path d="M1667.1,1231.5 L1631.6,1264.6 M1668.9,1233.5 L1633.4,1266.6" stroke="#9a3d9a" stroke-width="1.1" fill="none"/>
<path d="M1632.5,1265.6 A48.5,48.5 0 0 0 1672.5,1280.6" stroke="#9a3d9a" stroke-width="1.1" fill="none"/>
<line x1="1739" y1="1232.5" x2="1780" y2="1232.5" stroke="#8a5a5a" stroke-width="1"/>
<line x1="1739" y1="1237.5" x2="1780" y2="1237.5" stroke="#8a5a5a" stroke-width="1"/>
<path d="M1741,1281 L1741,1248 Q1741,1239 1750,1239 L1780,1239" fill="none" stroke="#8a5a5a" stroke-width="1"/>
<text x="1331.0" y="840.0" font-family="Liberation Sans" font-weight="normal" font-size="15.99" fill="#1a3a64" textLength="125.0" lengthAdjust="spacingAndGlyphs">12&quot; PORCH BEAM</text>
<text transform="translate(1127.0,1166.0) rotate(-90)" x="0" y="0" font-family="Liberation Sans" font-weight="normal" font-size="6.54" fill="#557" textLength="22.0" lengthAdjust="spacingAndGlyphs">B10234</text>
<text x="1722.0" y="1141.0" font-family="Liberation Sans" font-weight="normal" font-size="6.40" fill="#557" textLength="20.5" lengthAdjust="spacingAndGlyphs">SB6921</text>
<text x="1276.0" y="901.0" font-family="Liberation Sans" font-weight="normal" font-size="15.99" fill="#1a3a64" textLength="51.5" lengthAdjust="spacingAndGlyphs">PORCH</text>
<text x="1270.0" y="915.0" font-family="Liberation Sans" font-weight="normal" font-size="13.08" fill="#1a3a64" textLength="65.0" lengthAdjust="spacingAndGlyphs">26'-6&quot; x 7'-4&quot;</text>
<text x="1050.0" y="905.0" font-family="Liberation Sans" font-weight="normal" font-size="15.99" fill="#1a3a64" textLength="77.5" lengthAdjust="spacingAndGlyphs">8' HEADER</text>
<text x="1047.0" y="920.0" font-family="Liberation Sans" font-weight="normal" font-size="14.54" fill="#1a3a64" textLength="82.0" lengthAdjust="spacingAndGlyphs">2040SH2040SH</text>
<text x="1466.0" y="960.0" font-family="Liberation Sans" font-weight="normal" font-size="15.99" fill="#1a3a64" textLength="76.5" lengthAdjust="spacingAndGlyphs">8' HEADER</text>
<text x="1486.0" y="1002.5" font-family="Liberation Sans" font-weight="normal" font-size="12.35" fill="#1a3a64" textLength="44.0" lengthAdjust="spacingAndGlyphs">2860SH</text>
<text x="1257.5" y="1004.0" font-family="Liberation Sans" font-weight="normal" font-size="16.72" fill="#1a3a64" textLength="31.5" lengthAdjust="spacingAndGlyphs">2868</text>
<text transform="translate(1302.5,1082.5) rotate(-90)" x="0" y="0" font-family="Liberation Sans" font-weight="normal" font-size="16.72" fill="#1a3a64" textLength="71.5" lengthAdjust="spacingAndGlyphs">2X6 BEAM</text>
<text transform="translate(1494.0,1091.0) rotate(-90)" x="0" y="0" font-family="Liberation Sans" font-weight="normal" font-size="16.72" fill="#1a3a64" textLength="71.0" lengthAdjust="spacingAndGlyphs">2X6 BEAM</text>
<text x="1485.0" y="1147.5" font-family="Liberation Sans" font-weight="normal" font-size="16.72" fill="#1a3a64" textLength="71.0" lengthAdjust="spacingAndGlyphs">2X6 BEAM</text>
<text transform="translate(1194.0,1219.0) rotate(-90)" x="0" y="0" font-family="Liberation Sans" font-weight="normal" font-size="20.35" fill="#1a3a64" textLength="126.5" lengthAdjust="spacingAndGlyphs">FLUSH BEAM @ 9'</text>
<text x="1329.0" y="1177.5" font-family="Liberation Sans" font-weight="normal" font-size="16.72" fill="#1a3a64" textLength="131.0" lengthAdjust="spacingAndGlyphs">VAULTED CEILING</text>
<text x="1701.0" y="787.0" font-family="Liberation Sans" font-weight="normal" font-size="13.08" fill="#1a3a64" textLength="43.0" lengthAdjust="spacingAndGlyphs">3060SH</text>
<text x="1690.0" y="828.0" font-family="Liberation Sans" font-weight="normal" font-size="14.54" fill="#1a3a64" textLength="77.0" lengthAdjust="spacingAndGlyphs">8' HEADER</text>
<text x="1640.0" y="912.5" font-family="Liberation Sans" font-weight="normal" font-size="16.72" fill="#1a3a64" textLength="104.0" lengthAdjust="spacingAndGlyphs">CEILING JOIST</text>
<text x="1609.0" y="1063.0" font-family="Liberation Sans" font-weight="normal" font-size="14.54" fill="#1a3a64" textLength="32.0" lengthAdjust="spacingAndGlyphs">2668</text>
<text x="1741.0" y="1063.0" font-family="Liberation Sans" font-weight="normal" font-size="14.54" fill="#1a3a64" textLength="31.5" lengthAdjust="spacingAndGlyphs">5068</text>
<text x="1699.0" y="1171.0" font-family="Liberation Sans" font-weight="normal" font-size="15.99" fill="#1a3a64" textLength="104.0" lengthAdjust="spacingAndGlyphs">CEILING JOIST</text>
<text transform="translate(1675.0,1203.0) rotate(-90)" x="0" y="0" font-family="Liberation Sans" font-weight="normal" font-size="15.99" fill="#1a3a64" textLength="32.0" lengthAdjust="spacingAndGlyphs">2668</text>
<text transform="translate(1675.0,1272.0) rotate(-90)" x="0" y="0" font-family="Liberation Sans" font-weight="normal" font-size="15.99" fill="#1a3a64" textLength="32.0" lengthAdjust="spacingAndGlyphs">2468</text>
<text transform="translate(1586.0,1281.0) rotate(-90)" x="0" y="0" font-family="Liberation Sans" font-weight="normal" font-size="13.08" fill="#1a3a64" textLength="8.0" lengthAdjust="spacingAndGlyphs">0</text>
</g>
<line x1="2304.5" y1="862" x2="2304.5" y2="1247.5" stroke="#111" stroke-width="1.5" stroke-dasharray="18 7"/>
<line x1="2518.5" y1="827.5" x2="2518.5" y2="1247.5" stroke="#111" stroke-width="1.5" stroke-dasharray="18 7"/>
<rect x="2436" y="831" width="98.5" height="46" rx="7" fill="none" stroke="#8a5a5a" stroke-width="1.1"/>
<circle cx="2528" cy="853" r="1.8" fill="none" stroke="#8a5a5a" stroke-width="0.9"/>
<line x1="2433" y1="879.5" x2="2536" y2="879.5" stroke="#8a5a5a" stroke-width="0.9"/>
<line x1="2433" y1="882.5" x2="2536" y2="882.5" stroke="#8a5a5a" stroke-width="0.9"/>
<ellipse cx="2502.5" cy="908.75" rx="16" ry="13" fill="#fff" stroke="#7a4a4a" stroke-width="1.2"/>
<rect x="2517.5" y="892.5" width="17.00" height="33.00" fill="#fff" stroke="#7a4a4a" stroke-width="1.1"/>
<rect x="2497.5" y="938.75" width="38.00" height="59.25" fill="#e6e0df" stroke="#b07a7a" stroke-width="1.3" stroke-dasharray="4 2"/>
<ellipse cx="2516" cy="970" rx="12" ry="17" fill="none" stroke="#7a4a4a" stroke-width="1.2"/>
<ellipse cx="2516" cy="970" rx="9" ry="13" fill="none" stroke="#7a4a4a" stroke-width="0.8"/>
<line x1="2355" y1="790.5" x2="2427" y2="790.5" stroke="#222" stroke-width="1.2"/>
<line x1="2355" y1="808.5" x2="2427" y2="808.5" stroke="#222" stroke-width="1.2"/>
<line x1="2355" y1="825.5" x2="2427" y2="825.5" stroke="#222" stroke-width="1.2"/>
<line x1="2355" y1="842.5" x2="2427" y2="842.5" stroke="#222" stroke-width="1.2"/>
<line x1="2355" y1="860.5" x2="2427" y2="860.5" stroke="#222" stroke-width="1.2"/>
<line x1="2355" y1="877.5" x2="2427" y2="877.5" stroke="#222" stroke-width="1.2"/>
<line x1="2355" y1="894.5" x2="2427" y2="894.5" stroke="#222" stroke-width="1.2"/>
<line x1="2355" y1="911.5" x2="2427" y2="911.5" stroke="#222" stroke-width="1.2"/>
<line x1="2355" y1="928.5" x2="2427" y2="928.5" stroke="#222" stroke-width="1.2"/>
<line x1="2355" y1="945.5" x2="2427" y2="945.5" stroke="#222" stroke-width="1.2"/>
<line x1="2355" y1="962.5" x2="2427" y2="962.5" stroke="#222" stroke-width="1.2"/>
<line x1="2355" y1="979.5" x2="2427" y2="979.5" stroke="#222" stroke-width="1.2"/>
<line x1="2355" y1="996.5" x2="2427" y2="996.5" stroke="#222" stroke-width="1.2"/>
<line x1="2391.5" y1="782" x2="2391.5" y2="957.5" stroke="#2a2a80" stroke-width="1"/>
<polygon points="2391,780 2387.5,790.5 2394.5,790.5" fill="#fff" stroke="#2a2a80" stroke-width="1"/>
<rect x="2378" y="973" width="-2352.00" height="-961.00" fill="#fff" stroke="none" stroke-width="1"/>
<text x="2382.5" y="984.0" font-family="Liberation Sans" font-weight="normal" font-size="13.08" fill="#1a3a64" textLength="17.5" lengthAdjust="spacingAndGlyphs">DN</text>
<rect x="2152.5" y="698" width="8.00" height="549.50" fill="#e0cf6c" stroke="#141414" stroke-width="1.6"/>
<rect x="2662.5" y="698" width="8.50" height="549.50" fill="#e0cf6c" stroke="#141414" stroke-width="1.6"/>
<rect x="2349" y="773" width="6.00" height="231.50" fill="#e0cf6c" stroke="#141414" stroke-width="1.6"/>
<rect x="2427" y="773" width="5.50" height="231.50" fill="#e0cf6c" stroke="#141414" stroke-width="1.6"/>
<rect x="2349" y="773" width="83.50" height="6.00" fill="#e0cf6c" stroke="#141414" stroke-width="1.6"/>
<rect x="2432.5" y="821" width="108.50" height="6.50" fill="#e0cf6c" stroke="#141414" stroke-width="1.6"/>
<rect x="2536" y="821" width="5.00" height="183.50" fill="#e0cf6c" stroke="#141414" stroke-width="1.6"/>
<rect x="2244" y="998" width="56.00" height="6.50" fill="#e0cf6c" stroke="#141414" stroke-width="1.6"/>
<rect x="2341" y="998" width="17.00" height="6.50" fill="#e0cf6c" stroke="#141414" stroke-width="1.6"/>
<rect x="2421" y="998" width="24.50" height="6.50" fill="#e0cf6c" stroke="#141414" stroke-width="1.6"/>
<rect x="2495" y="998" width="85.00" height="6.50" fill="#e0cf6c" stroke="#141414" stroke-width="1.6"/>
<rect x="2244" y="998" width="5.50" height="249.50" fill="#e0cf6c" stroke="#141414" stroke-width="1.6"/>
<rect x="2575" y="998" width="5.00" height="249.50" fill="#e0cf6c" stroke="#141414" stroke-width="1.6"/>
<rect x="2260" y="857" width="6.00" height="143.00" fill="#e0cf6c" stroke="#141414" stroke-width="1.6"/>
<rect x="2260" y="857" width="40.00" height="6.00" fill="#e0cf6c" stroke="#141414" stroke-width="1.6"/>
<rect x="2342" y="857" width="7.00" height="6.00" fill="#e0cf6c" stroke="#141414" stroke-width="1.6"/>
<rect x="2355" y="779" width="72.00" height="225.00" fill="none" stroke="#141414" stroke-width="1.2"/>
<line x1="2300" y1="857.5" x2="2342" y2="857.5" stroke="#9a3d9a" stroke-width="0.9"/>
<line x1="2358" y1="999.5" x2="2372" y2="999.5" stroke="#9a3d9a" stroke-width="1.1"/>
<line x1="2406" y1="999.5" x2="2421" y2="999.5" stroke="#9a3d9a" stroke-width="1.1"/>
<path d="M2342.9,857.8 L2313.4,827.8 M2341.1,859.7 L2311.6,829.7" stroke="#9a3d9a" stroke-width="1.1" fill="none"/>
<path d="M2312.5,828.8 A42.1,42.1 0 0 0 2300.0,857.0" stroke="#9a3d9a" stroke-width="1.1" fill="none"/>
<path d="M2341.9,999.1 L2312.9,969.1 M2340.1,1000.9 L2311.1,970.9" stroke="#9a3d9a" stroke-width="1.1" fill="none"/>
<path d="M2312.0,970.0 A41.7,41.7 0 0 0 2300.0,998.0" stroke="#9a3d9a" stroke-width="1.1" fill="none"/>
<path d="M2357.1,1000.9 L2401.6,1048.4 M2358.9,999.1 L2403.4,1046.6" stroke="#9a3d9a" stroke-width="1.1" fill="none"/>
<path d="M2402.5,1047.5 A65.1,65.1 0 0 0 2421.0,1004.5" stroke="#9a3d9a" stroke-width="1.1" fill="none"/>
<path d="M2446.4,1000.9 L2480.9,965.9 M2444.6,999.1 L2479.1,964.1" stroke="#9a3d9a" stroke-width="1.1" fill="none"/>
<path d="M2480.0,965.0 A49.1,49.1 0 0 1 2495.0,998.0" stroke="#9a3d9a" stroke-width="1.1" fill="none"/>
<text x="2259.0" y="812.5" font-family="Liberation Sans" font-weight="normal" font-size="27.25" fill="#1a3a64" textLength="70.0" lengthAdjust="spacingAndGlyphs">ATTIC</text>
<text x="2306.0" y="887.0" font-family="Liberation Sans" font-weight="normal" font-size="15.99" fill="#1a3a64" textLength="31.5" lengthAdjust="spacingAndGlyphs">2068</text>
<text x="2305.0" y="1007.5" font-family="Liberation Sans" font-weight="normal" font-size="16.72" fill="#1a3a64" textLength="32.5" lengthAdjust="spacingAndGlyphs">2068</text>
<text x="2374.0" y="1007.5" font-family="Liberation Sans" font-weight="normal" font-size="16.72" fill="#1a3a64" textLength="31.0" lengthAdjust="spacingAndGlyphs">3068</text>
<text x="2454.5" y="1007.5" font-family="Liberation Sans" font-weight="normal" font-size="16.72" fill="#1a3a64" textLength="31.0" lengthAdjust="spacingAndGlyphs">2468</text>
<text x="2374.0" y="1169.0" font-family="Liberation Sans" font-weight="normal" font-size="21.80" fill="#1a3a64" textLength="67.0" lengthAdjust="spacingAndGlyphs">BONUS</text>
<text transform="translate(2515.0,980.0) rotate(-90)" x="0" y="0" font-family="Liberation Sans" font-weight="normal" font-size="5.81" fill="#557" textLength="20.0" lengthAdjust="spacingAndGlyphs">SB5831</text>
<text transform="translate(2202.5,1245.0) rotate(-90)" x="0" y="0" font-family="Liberation Sans" font-weight="normal" font-size="26.89" fill="#1a3a64" textLength="69.0" lengthAdjust="spacingAndGlyphs">ATTIC</text>
<text transform="translate(2632.5,1175.0) rotate(90)" x="0" y="0" font-family="Liberation Sans" font-weight="normal" font-size="26.89" fill="#1a3a64" textLength="70.0" lengthAdjust="spacingAndGlyphs">ATTIC</text>
<rect x="2684.5" y="1234" width="2.00" height="13.50" fill="#1a3a64" stroke="none" stroke-width="1"/>
</svg>
</body></html>
